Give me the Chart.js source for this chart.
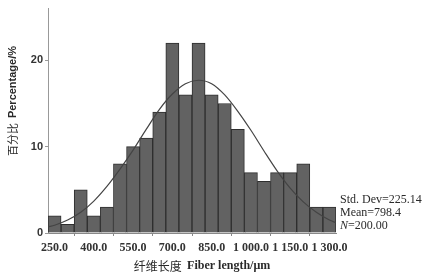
<!DOCTYPE html>
<html>
<head>
<meta charset="utf-8">
<script src="https://cdn.jsdelivr.net/npm/chart.js@4/dist/chart.umd.min.js"></script>
<style>
  body { margin: 0; background: #fff; }
</style>
</head>
<body>
<canvas id="histChart" width="430" height="280"></canvas>
<script>
// bin centres (um) and bar heights
const binCenters = [250, 300, 350, 400, 450, 500, 550, 600, 650, 700, 750, 800, 850, 900, 950, 1000, 1050, 1100, 1150, 1200, 1250, 1300];
const counts = [2, 1, 5, 2, 3, 8, 10, 11, 14, 22, 16, 22, 16, 15, 12, 7, 6, 7, 7, 8, 3, 3];

// fitted normal curve
const curveX = [225, 250, 300, 350, 400, 450, 500, 550, 600, 650, 700, 750, 800, 850, 900, 950, 1000, 1050, 1100, 1150, 1200, 1250, 1300, 1325];
const curveY = [0.7, 0.9, 1.5, 2.4, 3.7, 5.4, 7.4, 9.6, 12.0, 14.3, 16.1, 17.3, 17.7, 17.3, 16.0, 14.1, 11.9, 9.5, 7.2, 5.2, 3.6, 2.4, 1.5, 1.2];

const xTicks = [250, 400, 550, 700, 850, 1000, 1150, 1300];
const yTicks = [0, 10, 20];

const stdDev = '225.14';
const mean = '798.4';
const nTotal = '200.00';

function fmtTick(v) {
  const s = v.toFixed(1);
  const parts = s.split('.');
  const intPart = parts[0].replace(/\B(?=(\d{3})+(?!\d))/g, ' ');
  return intPart + '.' + parts[1];
}

// axis titles and the stats block
const textPlugin = {
  id: 'textPlugin',
  afterDraw(chart) {
    const ctx = chart.ctx;
    ctx.save();
    ctx.fillStyle = '#2a2a2a';

    // y title: chinese part plain, latin part bold
    ctx.save();
    ctx.translate(13, 101);
    ctx.rotate(-Math.PI / 2);
    ctx.textBaseline = 'middle';
    ctx.textAlign = 'left';
    const cnY = '百分比  ';
    const enY = 'Percentage/%';
    ctx.font = '11px "Noto Sans CJK SC"';
    const wCnY = ctx.measureText(cnY).width;
    ctx.font = 'bold 11px "Liberation Sans"';
    const wEnY = ctx.measureText(enY).width;
    let x0 = -(wCnY + wEnY) / 2;
    ctx.font = '11px "Noto Sans CJK SC"';
    ctx.fillText(cnY, x0, 0);
    ctx.font = 'bold 11px "Liberation Sans"';
    ctx.fillText(enY, x0 + wCnY, 0);
    ctx.restore();

    // x title
    ctx.textBaseline = 'middle';
    ctx.textAlign = 'left';
    const cnX = '纤维长度  ';
    const enX = 'Fiber length/μm';
    ctx.font = '12px "Noto Sans CJK SC"';
    const wCnX = ctx.measureText(cnX).width;
    ctx.font = 'bold 12px "Liberation Serif"';
    const wEnX = ctx.measureText(enX).width;
    x0 = 202 - (wCnX + wEnX) / 2;
    ctx.font = '12px "Noto Sans CJK SC"';
    ctx.fillText(cnX, x0, 266);
    ctx.font = 'bold 12px "Liberation Serif"';
    ctx.fillText(enX, x0 + wCnX, 266);

    // stats
    ctx.font = '12px "Liberation Serif"';
    ctx.fillText('Std. Dev=' + stdDev, 340, 200);
    ctx.fillText('Mean=' + mean, 340, 213);
    ctx.font = 'italic 12px "Liberation Serif"';
    ctx.fillText('N', 340, 226);
    const w = ctx.measureText('N').width;
    ctx.font = '12px "Liberation Serif"';
    ctx.fillText('=' + nTotal, 340 + w, 226);
    ctx.restore();
  }
};

const barData = binCenters.map((x, i) => ({ x: x, y: counts[i] }));
const lineData = curveX.map((x, i) => ({ x: x, y: curveY[i] }));

new Chart(document.getElementById('histChart').getContext('2d'), {
  type: 'bar',
  data: {
    datasets: [
      {
        type: 'line',
        data: lineData,
        borderColor: '#444',
        borderWidth: 1.2,
        pointRadius: 0,
        fill: false,
        cubicInterpolationMode: 'monotone',
        order: 0
      },
      {
        type: 'bar',
        data: barData,
        backgroundColor: '#626262',
        borderColor: '#2e2e2e',
        borderWidth: 1,
        barPercentage: 1,
        categoryPercentage: 1,
        order: 1
      }
    ]
  },
  options: {
    responsive: false,
    animation: false,
    layout: { padding: { left: 0, right: 94, top: 3, bottom: 0 } },
    plugins: {
      legend: { display: false },
      tooltip: { enabled: false }
    },
    scales: {
      x: {
        type: 'linear',
        min: 225,
        max: 1325,
        offset: false,
        afterBuildTicks: (scale) => { scale.ticks = xTicks.map(v => ({ value: v })); },
        afterFit: (scale) => { scale.height = 47; },
        grid: { drawOnChartArea: false, drawTicks: true, tickLength: 3, color: '#888' },
        border: { color: '#888' },
        ticks: {
          maxRotation: 0,
          autoSkip: false,
          padding: 5,
          color: '#333',
          font: { family: '"Liberation Serif"', size: 12, weight: 'bold' },
          callback: (v) => fmtTick(v)
        }
      },
      y: {
        min: 0,
        max: 26,
        afterBuildTicks: (scale) => { scale.ticks = yTicks.map(v => ({ value: v })); },
        afterFit: (scale) => { scale.width = 48; },
        grid: { drawOnChartArea: false, drawTicks: true, tickLength: 3, color: '#999' },
        border: { color: '#999' },
        ticks: {
          padding: 2,
          color: '#333',
          font: { family: '"Liberation Sans"', size: 11, weight: 'bold' }
        }
      }
    }
  },
  plugins: [textPlugin]
});
</script>
</body>
</html>
